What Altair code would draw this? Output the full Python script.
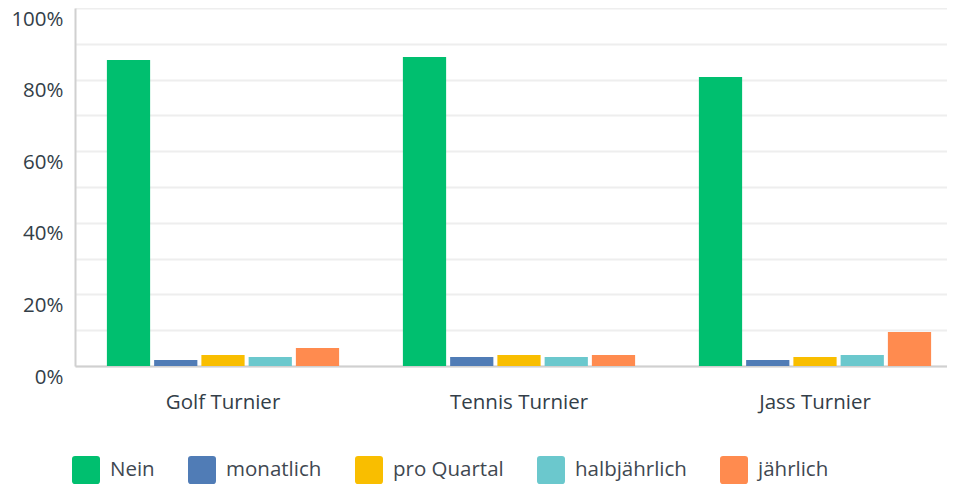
import altair as alt
import pandas as pd

categories = ["Golf Turnier", "Tennis Turnier", "Jass Turnier"]
series = ["Nein", "monatlich", "pro Quartal", "halbjährlich", "jährlich"]
colors = ["#00bf6f", "#507cb6", "#f9be00", "#6bc8cd", "#ff8b4f"]
golf = [0.855, 0.017, 0.031, 0.025, 0.050]
tennis = [0.863, 0.025, 0.031, 0.025, 0.031]
jass = [0.807, 0.017, 0.025, 0.031, 0.095]
y_ticks = [0, 0.1, 0.2, 0.3, 0.4, 0.5, 0.6, 0.7, 0.8, 0.9, 1.0]

rows = []
for cat, vals in zip(categories, [golf, tennis, jass]):
    for s, v in zip(series, vals):
        rows.append({"Kategorie": cat, "Serie": s, "Wert": v})
df = pd.DataFrame(rows)

rounded_square = ("M -0.78,-1 L 0.78,-1 Q 1,-1 1,-0.78 L 1,0.78 Q 1,1 0.78,1 "
                  "L -0.78,1 Q -1,1 -1,0.78 L -1,-0.78 Q -1,-1 -0.78,-1 Z")

text_color = "#333e48"

chart = alt.Chart(df).mark_bar().encode(
    x=alt.X("Kategorie:N", sort=categories, title=None,
            scale=alt.Scale(paddingInner=0, paddingOuter=0),
            axis=alt.Axis(labelAngle=0, labelFont="Open Sans", labelFontSize=20.5,
                          labelColor=text_color, labelBaseline="middle",
                          labelPadding=36, ticks=False, domainColor="#d0d0d0",
                          domainWidth=2, grid=False)),
    xOffset=alt.XOffset("Serie:N", sort=series,
                        scale=alt.Scale(paddingInner=0.085, paddingOuter=0.675)),
    y=alt.Y("Wert:Q", title=None,
            scale=alt.Scale(domain=[0, 1], nice=False),
            axis=alt.Axis(values=y_ticks,
                          labelExpr="round(datum.value*10) % 2 == 0 ? format(datum.value, '.0%') : ''",
                          labelFont="Open Sans", labelFontSize=20.5, labelColor=text_color,
                          labelPadding=12, labelOffset=11, labelBaseline="middle",
                          ticks=False, domainColor="#d0d0d0", domainWidth=2,
                          gridColor="#eeeeee", gridWidth=2)),
    color=alt.Color("Serie:N", sort=series, title=None,
                    scale=alt.Scale(domain=series, range=colors),
                    legend=alt.Legend(orient="none", legendX=-3, legendY=448,
                                      direction="horizontal", columns=5,
                                      symbolType=rounded_square, symbolSize=784,
                                      symbolStrokeWidth=0, labelOffset=10,
                                      columnPadding=33, padding=0,
                                      labelFont="Open Sans", labelFontSize=20.5,
                                      labelColor="#3f4851", labelLimit=300)),
).properties(
    width=888, height=358,
    autosize=alt.AutoSizeParams(type="none"),
    padding={"left": 67, "top": 0, "right": -16, "bottom": 118},
).configure_view(stroke=None)

chart.save("out.html", embed_options={"renderer": "svg", "actions": False})
